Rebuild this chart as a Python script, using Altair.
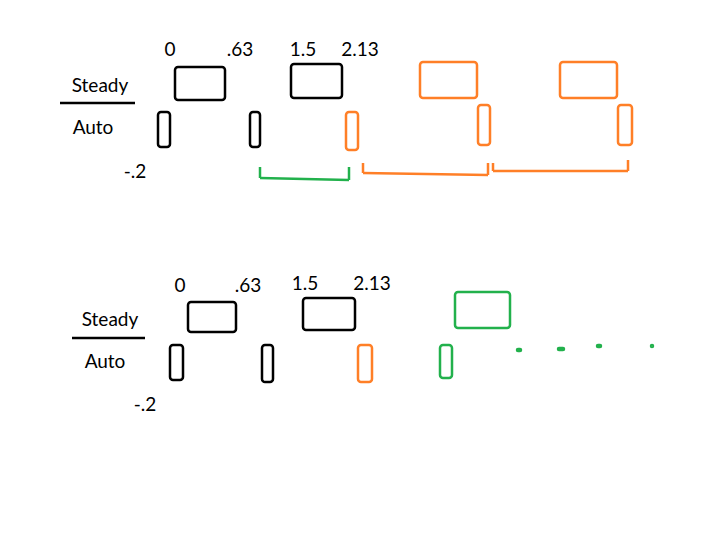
import pandas as pd
import altair as alt

# sketch, measured in picture pixels
labels = ["0", ".63", "1.5", "2.13", "Steady", "Auto", "-.2",
          "0", ".63", "1.5", "2.13", "Steady", "Auto", "-.2"]
label_x = [170, 240, 303, 360, 100, 93, 135, 180, 248, 305, 372, 110, 105, 145]
label_y = [50, 50, 50, 50, 86, 128, 172, 286, 286, 284, 284, 320, 362, 405]

box_x1 = [175, 291, 420, 560, 158, 250, 346, 478, 618,
          188, 303, 455, 170, 262, 358, 440, 517, 558, 597, 651]
box_x2 = [225, 342, 477, 617, 170, 260, 358, 490, 632,
          236, 355, 510, 183, 273, 372, 452, 521, 564, 601, 653]
box_y1 = [67, 64, 62, 62, 112, 112, 112, 105, 105,
          302, 298, 292, 345, 345, 345, 345, 349, 348, 345, 345]
box_y2 = [100, 98, 98, 98, 147, 147, 150, 145, 145,
          332, 330, 328, 380, 382, 382, 378, 351, 350, 347, 347]
box_color = ["black", "black", "orange", "orange", "black", "black", "orange", "orange", "orange",
             "black", "black", "green", "black", "black", "orange", "green", "green", "green", "green", "green"]

# brackets and the fraction bars
seg_x1 = [260, 260, 349, 363, 363, 488, 493, 493, 628, 60, 72]
seg_x2 = [260, 349, 349, 363, 488, 488, 493, 628, 628, 135, 145]
seg_y1 = [167, 178, 180, 163, 173, 163, 163, 171, 160, 103, 338]
seg_y2 = [178, 180, 167, 173, 175, 175, 171, 171, 171, 103, 338]
seg_color = ["green"] * 3 + ["orange"] * 6 + ["black", "black"]

palette = alt.Scale(domain=["black", "orange", "green"],
                    range=["#000000", "#ff7f27", "#22b14c"])
xs = alt.Scale(domain=[8, 718])
ys = alt.Scale(domain=[537, 8])

texts = pd.DataFrame({"t": labels, "x": label_x, "y": label_y})
boxes = pd.DataFrame({"x": box_x1, "x2": box_x2, "y": box_y1, "y2": box_y2, "c": box_color})
segs = pd.DataFrame({"x": seg_x1, "x2": seg_x2, "y": seg_y1, "y2": seg_y2, "c": seg_color})

text_layer = alt.Chart(texts).mark_text(fontSize=19, font="Lato", color="black").encode(
    x=alt.X("x:Q", scale=xs, axis=None),
    y=alt.Y("y:Q", scale=ys, axis=None),
    text="t:N",
)

box_layer = alt.Chart(boxes).mark_rect(filled=False, strokeWidth=2.5, cornerRadius=3).encode(
    x=alt.X("x:Q", scale=xs, axis=None), x2="x2",
    y=alt.Y("y:Q", scale=ys, axis=None), y2="y2",
    stroke=alt.Color("c:N", scale=palette, legend=None),
)

seg_layer = alt.Chart(segs).mark_rule(strokeWidth=2.5).encode(
    x=alt.X("x:Q", scale=xs, axis=None), x2="x2",
    y=alt.Y("y:Q", scale=ys, axis=None), y2="y2",
    color=alt.Color("c:N", scale=palette, legend=None),
)

chart = alt.layer(box_layer, seg_layer, text_layer).properties(
    width=710, height=529, padding=0, autosize="none"
).configure_view(stroke=None)

chart.save("out.html", embed_options={"renderer": "svg", "actions": False})
